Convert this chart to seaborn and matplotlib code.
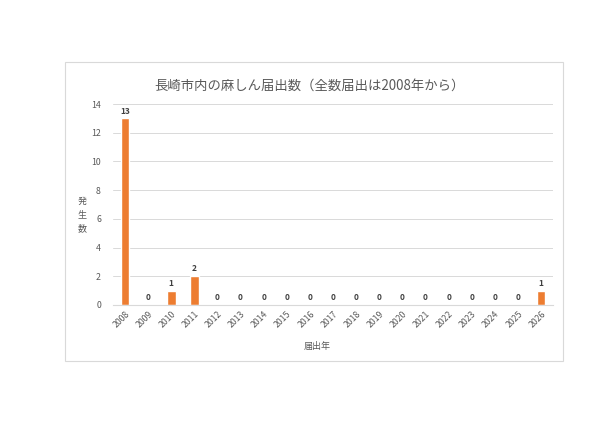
import seaborn as sns
import matplotlib.pyplot as plt
from matplotlib.patches import Rectangle

years = [str(y) for y in range(2008, 2027)]
counts = [13, 0, 1, 2, 0, 0, 0, 0, 0, 0, 0, 0, 0, 0, 0, 0, 0, 0, 1]

sns.set_style('white')
plt.rcParams['font.family'] = ['Noto Sans CJK JP', 'DejaVu Sans']

fig = plt.figure(figsize=(6, 4.24), dpi=100)
fig.patches.append(Rectangle((65 / 600, 1 - 361 / 424), 498 / 600, 299 / 424,
                             transform=fig.transFigure, fill=False,
                             edgecolor='#d9d9d9', linewidth=0.8))

ax = fig.add_axes([0.189, 0.2807, 0.732, 0.474])
sns.barplot(x=years, y=counts, color='#ed7d31', width=0.38, saturation=1, ax=ax)
ax.bar_label(ax.containers[0], fontsize=6, color='#404040', fontweight='bold', padding=2)

ax.set_ylim(0, 14)
ax.set_yticks(range(0, 15, 2))
ax.yaxis.grid(True, color='#d9d9d9', linewidth=0.7)
ax.set_axisbelow(True)
for s in ['top', 'right', 'left']:
    ax.spines[s].set_visible(False)
ax.spines['bottom'].set_color('#d9d9d9')
ax.tick_params(axis='both', length=0, labelsize=6.3, labelcolor='#595959')
ax.tick_params(axis='y', pad=9)
ax.tick_params(axis='x', pad=3)
plt.setp(ax.get_xticklabels(), rotation=45, ha='right', rotation_mode='anchor')
ax.set_xlabel('')
ax.set_ylabel('')

fig.text(309 / 600, 1 - 86 / 424, '長崎市内の麻しん届出数（全数届出は2008年から）',
         ha='center', va='center', fontsize=9.6, color='#595959')
fig.text(82 / 600, 1 - 215 / 424, '発\n生\n数', ha='center', va='center',
         fontsize=6.5, color='#595959', linespacing=1.6)
fig.text(317 / 600, 1 - 347 / 424, '届出年', ha='center', va='center',
         fontsize=6.5, color='#595959')

fig.savefig('out.png', dpi=100)
